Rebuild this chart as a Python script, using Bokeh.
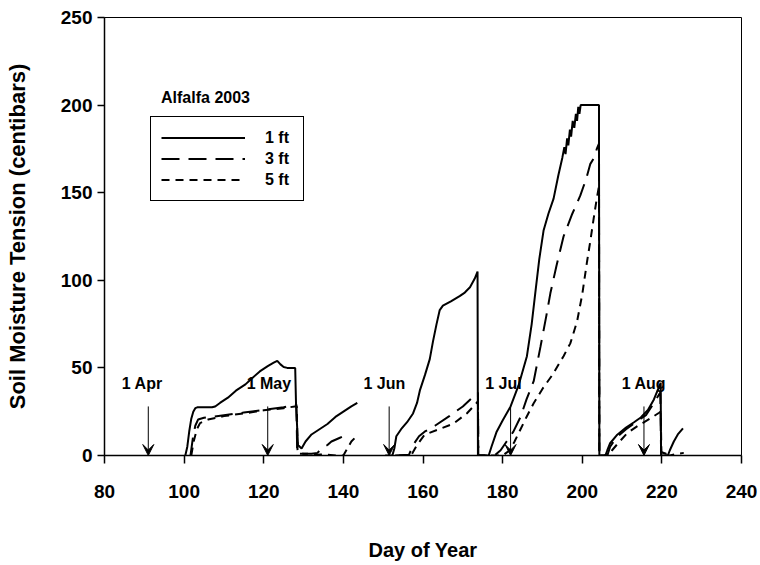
import math
from bokeh.plotting import figure
from bokeh.models import (Range1d, Label, LabelSet, Arrow, VeeHead, Legend, LegendItem,
                          FixedTicker, ColumnDataSource)
from bokeh.core.properties import value
from bokeh.embed import file_html
from bokeh.resources import INLINE

NAN = float("nan")

# ---------------- data ----------------
DAY_1FT = [100.3, 100.8, 101.3, 101.8, 102.3, 102.8, 103.3, 105, 107, 107.8, 109, 111, 113, 115.4,
           117, 119, 121, 122.5, 123.4, 124.2, 125, 125.9, 127.9, 128.1, 128.6, 129.5, 130.5, 132,
           134, 136, 138, 140, 142, 143.5,
           NAN,
           150.5, 152.3, 152.8, 153.3, 154.5, 156, 157.5, 158.5, 159.2, 160.5, 161.7, 162.5, 163.4,
           164.2, 165, 167, 169.2, 170.5, 171.8, 173, 173.7, 173.8, 176.5, 177.2, 178.5, 180, 182,
           184, 186.1, 187.3, 188.2, 189.2, 190.3, 191.5, 192.8, 194, 195, 195.5, 195.8, 196.2,
           196.5, 196.9, 197.2, 197.6, 198, 198.4, 198.7, 199, 199.3, 199.6, 204.2, 204.3, 205.8,
           206.3, 207, 208.8, 211, 213, 214.7, 216.5, 218, 219.7, 219.8, 221.5, 222, 223, 224, 225.3]
TEN_1FT = [0, 5, 14, 21, 25, 27, 27.5, 27.5, 27.5, 28, 30, 33, 37, 40.6,
           44, 48, 51, 53, 54, 52, 50.5, 50, 50, 30, 6, 4, 8, 12,
           15, 18, 22, 25, 28, 30,
           NAN,
           0, 0, 4, 11, 15, 19, 24, 30, 37, 46, 55, 65, 75,
           83, 85.5, 88, 91, 93, 96, 101, 105, 0, 0, 5, 13.6, 20, 28,
           40, 56.7, 75, 92.7, 112, 128.6, 138, 146.6, 160, 170, 176, 172, 181,
           177, 186, 182, 191, 187, 195, 191, 199, 195, 200, 200, 0, 0,
           3, 7, 11.9, 16, 19, 21.7, 26, 32, 41.5, 0, 0, 3, 8, 12, 15.5]

DAY_3FT = [101.6, 102.2, 102.8, 103.5, 105, 110, 115, 120, 125, 127.8, 128.2, 128.4, 130, 132,
           133.5, 134.5, 136, 137, 138, 139, 140,
           NAN,
           153, 156.5, 157.5, 159, 160.4, 163, 166.7, 170, 173.4, 173.8, 173.9, 178, 179.5, 181,
           182.7, 184.5, 186, 187.8, 189.5, 191, 192, 193.5, 195.3, 197.5, 199.5, 201, 202, 203,
           203.7, 204.2, 204.3, 206.3, 207, 208.5, 211, 214, 216, 218, 219.6, 219.8, 221, 222, 223]
TEN_3FT = [0, 10, 17, 20.5, 21.5, 23, 24.5, 26, 27.5, 29, 29, 2, 1, 1,
           1.5, 4, 6, 8, 9, 10, 11,
           NAN,
           0, 0.5, 6, 11, 13.6, 17, 22.6, 28, 35.2, 36, 0, 0, 3, 8,
           13.6, 22, 32, 42.4, 62, 80, 92.7, 108, 125, 138, 148.3, 158, 166.3, 170,
           175.3, 178, 0, 0, 5, 10, 15, 20, 23, 30, 36, 2, 1, 2, 1]

DAY_5FT = [101.8, 102.4, 103.2, 104, 106, 110, 115, 120, 125, 127.8, 128.3, 128.5, 131, 134,
           136, 138, 140, 141, 142, 143.3,
           NAN,
           154, 157, 157.5, 158.5, 160.4, 164, 167.6, 171, 173.4, 173.8, 173.9, 180, 181.8, 183,
           184.5, 186, 187.8, 190, 192.5, 195.3, 197, 198.7, 200, 201.2, 202, 202.9, 203.6, 204.2,
           204.3, 206.8, 207.5, 209, 211.3, 214, 217, 219.3, 219.7, 219.9, 222, 224, 225.5]
TEN_5FT = [0, 8, 15, 18.5, 20.5, 22.5, 24, 25.8, 27, 28, 28, 1, 1, 0.5,
           0.5, 0, 0, 4, 8, 11,
           NAN,
           0, 0, 2, 6, 11.9, 15, 18.1, 24, 29.8, 31, 0, 0, 2.9, 8,
           15, 22, 29.8, 38, 46, 56.7, 64, 76.5, 92, 110.6, 122, 135.8, 146, 153.7,
           0, 0, 3, 7, 12.8, 17, 21, 24.4, 25, 0, 0, 1, 1.5]

SERIES_NAMES = ["1 ft", "3 ft", "5 ft"]

MONTH_DAYS = [91, 121, 151.5, 182, 215.5]
MONTH_LABELS = ["1 Apr", "1 May", "1 Jun", "1 Jul", "1 Aug"]
ARROW_TOP = 28
LABEL_LEVEL = 41

X_TICKS = [80, 100, 120, 140, 160, 180, 200, 220, 240]
Y_TICKS = [0, 50, 100, 150, 200, 250]

LEGEND_TITLE = "Alfalfa 2003"
X_LABEL = "Day of Year"
Y_LABEL = "Soil Moisture Tension (centibars)"

# ---------------- figure ----------------
FONT = "Liberation Sans"
W, H = 760, 565
LEFT, RIGHT, TOP, BOTTOM = 104, 19, 17, 110

p = figure(width=W, height=H, output_backend="svg", toolbar_location=None,
           x_range=Range1d(80, 240), y_range=Range1d(0, 250),
           min_border_left=LEFT, min_border_right=RIGHT, min_border_top=TOP,
           min_border_bottom=BOTTOM)
p.background_fill_color = "white"
p.border_fill_color = "white"
p.xgrid.visible = False
p.ygrid.visible = False
p.outline_line_color = "black"
p.outline_line_width = 1

for ax, ticks, tout in ((p.xaxis[0], X_TICKS, 8), (p.yaxis[0], Y_TICKS, 7)):
    ax.ticker = FixedTicker(ticks=ticks)
    ax.major_tick_out = tout
    ax.major_tick_in = 0
    ax.minor_tick_out = 0
    ax.minor_tick_in = 0
    ax.axis_line_width = 1.5
    ax.axis_line_color = "black"
    ax.major_tick_line_width = 1.5
    ax.major_tick_line_color = "black"
    ax.major_label_text_font = FONT
    ax.major_label_text_font_style = "bold"
    ax.major_label_text_font_size = "19px"
    ax.major_label_text_color = "black"
    ax.axis_label_text_font = FONT
    ax.axis_label_text_font_style = "bold"
    ax.axis_label_text_color = "black"

p.xaxis.axis_label = X_LABEL
p.yaxis.axis_label = Y_LABEL
p.xaxis.axis_label_text_font_size = "20px"
p.yaxis.axis_label_text_font_size = "22px"
p.xaxis.major_label_standoff = 21
p.xaxis.axis_label_standoff = 38
p.yaxis.major_label_standoff = 5
p.yaxis.axis_label_standoff = 28

styles = [dict(line_dash="solid"), dict(line_dash="18 9"), dict(line_dash="8 6")]
renderers = []
for (dx, ty), st in zip(((DAY_1FT, TEN_1FT), (DAY_3FT, TEN_3FT), (DAY_5FT, TEN_5FT)), styles):
    r = p.line(dx, ty, line_color="black", line_width=2, **st)
    renderers.append(r)

# month arrows and labels
arrow_src = ColumnDataSource(dict(x=MONTH_DAYS, y0=[ARROW_TOP] * len(MONTH_DAYS),
                                  y1=[0] * len(MONTH_DAYS)))
p.add_layout(Arrow(source=arrow_src, x_start="x", y_start="y0", x_end="x", y_end="y1",
                   line_color="black", line_width=1,
                   end=VeeHead(size=11, line_color="black", line_width=1)))
label_shift = [-1.5, 0.3, -1.2, -1.8, 0.0]
lab_src = ColumnDataSource(dict(x=[d + s for d, s in zip(MONTH_DAYS, label_shift)],
                                y=[LABEL_LEVEL] * len(MONTH_DAYS), text=MONTH_LABELS))
p.add_layout(LabelSet(source=lab_src, x="x", y="y", text="text", text_align="center",
                      text_baseline="middle", text_font=value(FONT), text_font_style="bold",
                      text_font_size="16px", text_color="black"))

# legend
legend = Legend(items=[LegendItem(label=n, renderers=[r]) for n, r in zip(SERIES_NAMES, renderers)],
                location=(46, 254), orientation="vertical",
                border_line_color="black", border_line_width=1.5, border_line_alpha=1,
                background_fill_color="white", background_fill_alpha=1,
                label_text_font=FONT, label_text_font_style="bold", label_text_font_size="16px",
                label_text_color="black", glyph_width=84, glyph_height=21, label_height=21,
                label_width=28, label_standoff=20, padding=10, spacing=0, margin=0)
p.add_layout(legend)

p.add_layout(Label(x=101, y=358, x_units="screen", y_units="screen", text=LEGEND_TITLE,
                   text_align="center", text_baseline="middle", text_font=FONT,
                   text_font_style="bold", text_font_size="16px", text_color="black"))

open("out.html", "w").write(file_html(p, INLINE))
